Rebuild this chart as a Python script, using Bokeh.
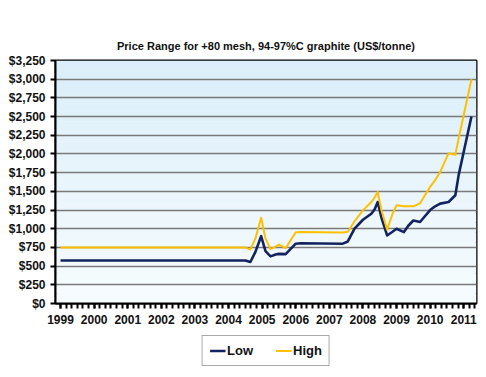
from bokeh.plotting import figure
from bokeh.layouts import column
from bokeh.models import (FixedTicker, NumeralTickFormatter, Legend, LegendItem,
                          BoxAnnotation)
from bokeh.embed import file_html
from bokeh.resources import INLINE

title_text = "Price Range for +80 mesh, 94-97%C graphite (US$/tonne)"
series_names = ["Low", "High"]
years = list(range(1999, 2012))
price_ticks = list(range(0, 3251, 250))

dates = [1999.0, 2004.5, 2004.65, 2004.8, 2004.97, 2005.1, 2005.25, 2005.4, 2005.5,
         2005.7, 2005.85, 2006.0, 2006.15, 2007.4, 2007.55, 2007.75, 2008.0, 2008.25,
         2008.35, 2008.44, 2008.55, 2008.72, 2008.88, 2009.0, 2009.22, 2009.35, 2009.5,
         2009.7, 2009.85, 2010.0, 2010.15, 2010.3, 2010.55, 2010.75, 2010.85, 2011.0,
         2011.23]
low = [575, 575, 555, 690, 900, 700, 630, 655, 664, 660, 730, 800, 805, 800, 830,
       1000, 1120, 1200, 1260, 1357, 1150, 910, 960, 1000, 955, 1040, 1110, 1090,
       1170, 1250, 1300, 1336, 1357, 1448, 1720, 2030, 2500]
high = [750, 750, 720, 870, 1148, 870, 726, 760, 789, 739, 850, 954, 955, 950, 960,
        1100, 1246, 1357, 1420, 1492, 1250, 986, 1200, 1313, 1300, 1300, 1300, 1340,
        1450, 1560, 1650, 1760, 2010, 1990, 2210, 2520, 3000]

FONT = "Liberation Sans"
LOW_COLOR = "#13235f"
HIGH_COLOR = "#ffc000"

p = figure(width=486, height=335, x_range=(1998.85, 2011.38), y_range=(0, 3250),
           output_backend="svg", toolbar_location=None, title=title_text,
           min_border_left=55, min_border_right=10, min_border_top=60,
           min_border_bottom=32)
p.title.align = "center"
p.title.text_font = FONT
p.title.text_font_size = "11px"
p.title.text_font_style = "bold"
p.title.text_color = "#111111"
p.title.offset = 0
p.title.standoff = 18

p.background_fill_color = "#f4fafd"
p.border_fill_color = "white"
p.outline_line_color = "black"
p.outline_line_width = 2

# vertical gradient background bands
n = 24
c0 = (247, 252, 254)
c1 = (218, 238, 249)
for i in range(n):
    t = (i + 0.5) / n
    col = tuple(int(round(c0[k] + (c1[k] - c0[k]) * t)) for k in range(3))
    p.add_layout(BoxAnnotation(bottom=3250 * i / n, top=3250 * (i + 1) / n,
                               fill_color="#%02x%02x%02x" % col, fill_alpha=1,
                               line_alpha=0, level="image"))

p.line(dates, low, line_color=LOW_COLOR, line_width=2.6, line_join="round")
p.line(dates, high, line_color=HIGH_COLOR, line_width=2.0, line_join="round")

# axes
p.yaxis.ticker = FixedTicker(ticks=price_ticks)
p.yaxis.formatter = NumeralTickFormatter(format="$0,0")
p.xaxis.ticker = FixedTicker(ticks=years,
                             minor_ticks=[1999 + k / 6 for k in range(0, 75)])
for ax in (p.xaxis, p.yaxis):
    ax.axis_line_color = "black"
    ax.axis_line_width = 2
    ax.major_tick_line_color = "black"
    ax.major_tick_line_width = 2
    ax.major_tick_in = 0
    ax.major_tick_out = 5
    ax.major_label_text_font = FONT
    ax.major_label_text_font_size = "12px"
    ax.major_label_text_font_style = "bold"
    ax.major_label_text_color = "#111111"
p.xaxis.minor_tick_line_color = "black"
p.xaxis.minor_tick_line_width = 2
p.xaxis.minor_tick_in = 0
p.xaxis.minor_tick_out = 5
p.yaxis.minor_tick_line_color = None
p.xaxis.major_label_standoff = 6
p.yaxis.major_label_standoff = 5

p.xgrid.grid_line_color = None
p.ygrid.ticker = FixedTicker(ticks=price_ticks)
p.ygrid.grid_line_color = "#7a7a7a"
p.ygrid.grid_line_width = 1.5

# legend strip below the chart (same series, out of view, used only as legend keys)
p2 = figure(width=486, height=42, x_range=(0, 1), y_range=(0, 1),
            output_backend="svg", toolbar_location=None,
            x_axis_type=None, y_axis_type=None,
            min_border_left=0, min_border_right=0, min_border_top=0,
            min_border_bottom=0)
p2.grid.visible = False
p2.outline_line_color = None
p2.background_fill_color = "white"
r_low = p2.line(dates, low, line_color=LOW_COLOR, line_width=2.6)
r_high = p2.line(dates, high, line_color=HIGH_COLOR, line_width=2.0)

legend = Legend(items=[LegendItem(label=series_names[0], renderers=[r_low]),
                       LegendItem(label=series_names[1], renderers=[r_high])],
                orientation="horizontal", location="top_center")
legend.label_text_font = FONT
legend.label_text_font_size = "13px"
legend.label_text_font_style = "bold"
legend.label_text_color = "#111111"
legend.border_line_color = "#555555"
legend.border_line_width = 1.5
legend.background_fill_color = "white"
legend.glyph_width = 16
legend.label_standoff = 2
legend.spacing = 22
legend.padding = 7
legend.margin = 0
legend.label_height = 13
legend.glyph_height = 13
p2.add_layout(legend)

layout = column(p, p2, spacing=0)
open("out.html", "w").write(file_html(layout, INLINE))
